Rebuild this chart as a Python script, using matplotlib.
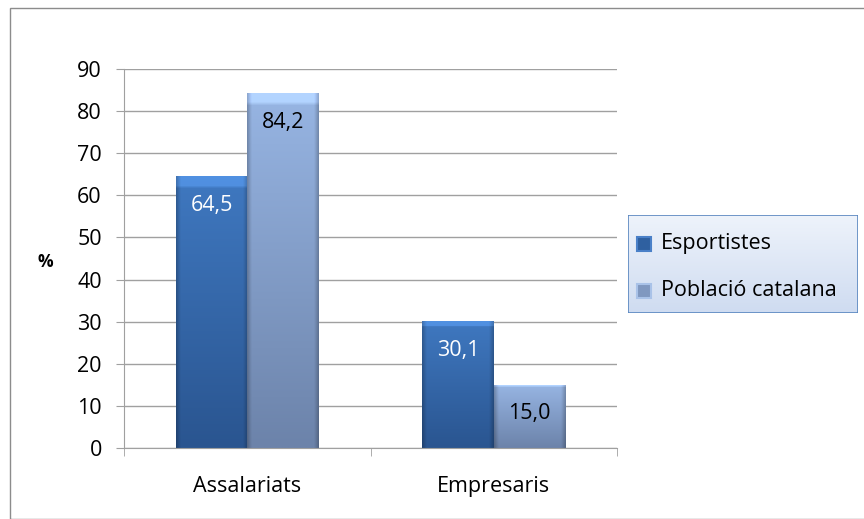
import numpy as np
import matplotlib.pyplot as plt
from matplotlib.patches import FancyBboxPatch
from matplotlib.colors import LinearSegmentedColormap

categories = ["Assalariats", "Empresaris"]
series_names = ["Esportistes", "Població catalana"]
esportistes = [64.5, 30.1]
poblacio = [84.2, 15.0]
yticks = [0, 10, 20, 30, 40, 50, 60, 70, 80, 90]

plt.rcParams['font.family'] = ['Open Sans', 'DejaVu Sans']
fs = 15.5

fig = plt.figure(figsize=(8.64, 5.19), dpi=100)
ax = fig.add_axes([124 / 864, 1 - 448 / 519, (617 - 124) / 864, (448 - 69) / 519])

# outer chart frame
fig.patches.append(plt.Rectangle((10 / 864, 0), 1, 1 - 8 / 519, transform=fig.transFigure,
                                 fill=False, edgecolor='#8c8c8c', lw=1.0))

x = np.arange(len(categories))
w = 0.29
grid_c = '#a0a0a0'


def shaded_bar(ax, xc, h, top, bottom):
    # bar filled with a soft bevel gradient
    bars = ax.bar(xc, h, w, color=bottom, edgecolor='none', zorder=3)
    patch = bars[0]
    ny, nx = 100, 60
    yy = np.linspace(0, 1, ny)[:, None]
    xx = np.linspace(0, 1, nx)[None, :]
    top = np.array(plt.matplotlib.colors.to_rgb(top))
    bottom = np.array(plt.matplotlib.colors.to_rgb(bottom))
    base = bottom + (top - bottom) * yy[..., None]
    edge = np.minimum(1, np.minimum(xx, 1 - xx) / 0.06)[..., None]
    img = base * (0.78 + 0.22 * edge)
    # lighter bevel strip along the top
    cap = (yy > 1 - min(0.04, 2.5 / h))[..., None]
    img = np.where(cap, np.clip(img * 1.12 + 0.04, 0, 1), img)
    im = ax.imshow(img, extent=[xc - w / 2, xc + w / 2, 0, h], origin='lower',
                   aspect='auto', zorder=4, interpolation='bilinear')
    im.set_clip_path(patch)


for i in range(len(categories)):
    shaded_bar(ax, x[i] - w / 2, esportistes[i], '#3f78c0', '#2a5590')
    shaded_bar(ax, x[i] + w / 2, poblacio[i], '#97b5e3', '#6c83aa')
    ax.text(x[i] - w / 2, esportistes[i] - 6.9, f"{esportistes[i]:.1f}".replace('.', ','),
            ha='center', va='center', color='white', fontsize=fs, zorder=5)
    ax.text(x[i] + w / 2, poblacio[i] - 6.9, f"{poblacio[i]:.1f}".replace('.', ','),
            ha='center', va='center', color='black', fontsize=fs, zorder=5)

ax.set_xlim(-0.5, 1.5)
ax.set_ylim(0, 90)
ax.set_yticks(yticks)
ax.set_yticklabels([str(t) for t in yticks], fontsize=fs)
ax.set_xticks(x)
ax.set_xticklabels(categories, fontsize=fs)
ax.set_xticks([-0.5, 0.5, 1.5], minor=True)
ax.tick_params(axis='x', which='major', length=0, pad=20)
ax.tick_params(axis='x', which='minor', length=6, color=grid_c, direction='out')
ax.tick_params(axis='y', length=6, color=grid_c, pad=10)
ax.yaxis.grid(True, color=grid_c, lw=1.0, zorder=0)
ax.set_axisbelow(True)
for s in ['top', 'right']:
    ax.spines[s].set_visible(False)
for s in ['left', 'bottom']:
    ax.spines[s].set_color(grid_c)
    ax.spines[s].set_zorder(6)

fig.text(45 / 864, 1 - 262 / 519, "%", fontsize=12.5, fontweight='bold', ha='center', va='center')

# legend box
lx0, ly0, lx1, ly1 = 628, 215, 858, 313
lax = fig.add_axes([lx0 / 864, 1 - ly1 / 519, (lx1 - lx0) / 864, (ly1 - ly0) / 519])
lax.set_xlim(0, lx1 - lx0)
lax.set_ylim(ly1 - ly0, 0)
lax.axis('off')
bg = LinearSegmentedColormap.from_list('bg', ['#eef3fb', '#cfdcf1'])
lax.imshow(np.linspace(0, 1, 50)[:, None], cmap=bg, extent=[0, lx1 - lx0, ly1 - ly0, 0],
           aspect='auto', zorder=0)
lax.add_patch(plt.Rectangle((0, 0), lx1 - lx0, ly1 - ly0, fill=False, edgecolor='#5a87c0', lw=1.2, zorder=2))
swatches = [('#2f60a0', '#4a80c8'), ('#8098c0', '#a9c2e8')]
for k, name in enumerate(series_names):
    cy = 29 + k * 47
    lax.add_patch(plt.Rectangle((9, cy - 7), 14, 14, facecolor=swatches[k][0],
                                edgecolor=swatches[k][1], lw=1.5, zorder=3))
    lax.text(33, cy, name, fontsize=fs, va='center', ha='left', zorder=3)

fig.savefig('out.png', dpi=100)
